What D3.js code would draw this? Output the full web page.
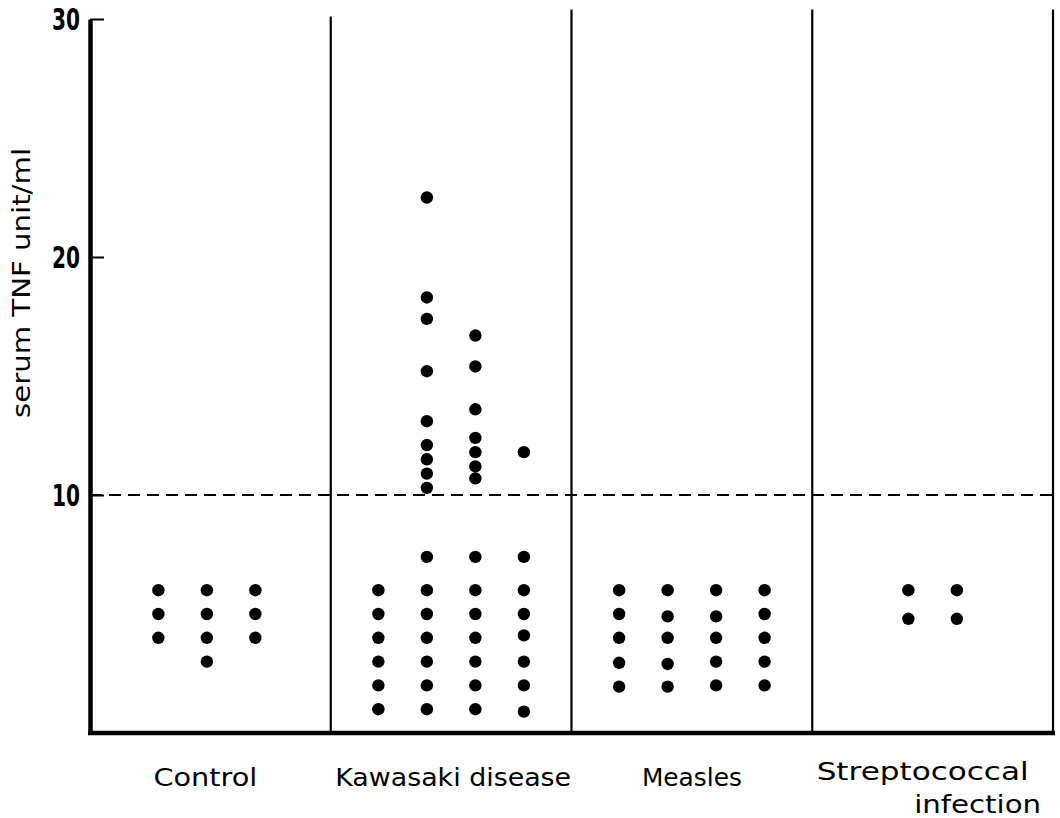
<!DOCTYPE html>
<html>
<head>
<meta charset="utf-8">
<script src="https://cdn.jsdelivr.net/npm/d3@7"></script>
<style>
  html, body { margin: 0; padding: 0; background: #fff; }
  svg { display: block; }
  text { font-family: "DejaVu Sans", "Liberation Sans", sans-serif; fill: #000; }
</style>
</head>
<body>
<svg id="chart" width="1060" height="818"></svg>
<script>
// ---- data ----
const categories = ["Control", "Kawasaki disease", "Measles", "Streptococcal infection"];
const yTicks = [10, 20, 30];
const threshold = 10;
// each category: list of dot columns, each column a list of serum TNF values (unit/ml)
const controlValues = [
  [6, 5, 4],
  [6, 5, 4, 3],
  [6, 5, 4]
];
const kawasakiValues = [
  [6, 5, 4, 3, 2, 1],
  [22.5, 18.3, 17.4, 15.2, 13.1, 12.1, 11.5, 10.9, 10.3, 7.4, 6, 5, 4, 3, 2, 1],
  [16.7, 15.4, 13.6, 12.4, 11.8, 11.2, 10.7, 7.4, 6, 5, 4, 3, 2, 1],
  [11.8, 7.4, 6, 5, 4.1, 3, 2, 0.9]
];
const measlesValues = [
  [6, 5, 4, 2.95, 1.95],
  [6, 4.9, 4, 2.9, 1.95],
  [6, 4.9, 4, 3, 2],
  [6, 5, 4, 3, 2]
];
const streptococcalValues = [
  [6, 4.8],
  [6, 4.8]
];
const seriesByCategory = [controlValues, kawasakiValues, measlesValues, streptococcalValues];

// ---- layout ----
const svg = d3.select("#chart");
const mLeft = 90, mRight = 1053, mTop = 19, mBottom = 733;

const x = d3.scaleBand().domain(categories).range([mLeft, mRight]).padding(0);
const y = d3.scaleLinear().domain([0, 30]).range([mBottom, mTop]);
const colSpacing = 48.5;

// dividers and right border
const boundaries = categories.slice(1).map(c => x(c)).concat([x(categories[3]) + x.bandwidth()]);
svg.append("g").selectAll("line").data(boundaries).join("line")
  .attr("x1", d => d).attr("x2", d => d)
  .attr("y1", (d, i) => i === 0 ? y(30.1) : y(30.4)).attr("y2", y(0))
  .attr("stroke", "#000").attr("stroke-width", 2.2);

// threshold dashed line
svg.append("line")
  .attr("x1", mLeft).attr("x2", mRight)
  .attr("y1", y(threshold)).attr("y2", y(threshold))
  .attr("stroke", "#000").attr("stroke-width", 2)
  .attr("stroke-dasharray", "12,7");

// y axis
const yAxis = d3.axisLeft(y).tickValues(yTicks).tickSizeInner(-14).tickSizeOuter(0).tickPadding(10)
  .tickFormat(d3.format("d"));
const gy = svg.append("g").attr("transform", `translate(${mLeft},0)`).call(yAxis);
gy.select(".domain").attr("stroke", "#000").attr("stroke-width", 4.5);
gy.selectAll(".tick line").attr("stroke", "#000").attr("stroke-width", 2);
gy.selectAll(".tick text")
  .attr("font-family", "Liberation Sans, Arial, sans-serif")
  .attr("font-size", 30).attr("font-weight", "bold")
  .attr("textLength", 28).attr("lengthAdjust", "spacingAndGlyphs")
  .attr("dy", "0.36em");

// bottom axis line
svg.append("line")
  .attr("x1", mLeft - 2).attr("x2", mRight + 2)
  .attr("y1", y(0)).attr("y2", y(0))
  .attr("stroke", "#000").attr("stroke-width", 4.5);

// dots
const dots = [];
seriesByCategory.forEach((cols, ci) => {
  const cat = categories[ci];
  const center = x(cat) + x.bandwidth() / 2 - (ci === 0 ? 3.5 : 0);
  cols.forEach((col, k) => {
    const cx = center + (k - (cols.length - 1) / 2) * colSpacing;
    col.forEach(v => dots.push({ cx, v }));
  });
});
svg.append("g").selectAll("circle").data(dots).join("circle")
  .attr("cx", d => d.cx).attr("cy", d => y(d.v)).attr("r", 6.2).attr("fill", "#000");

// y axis title
svg.append("text")
  .attr("transform", `translate(30,283) rotate(-90)`)
  .attr("text-anchor", "middle")
  .attr("font-size", 25)
  .attr("textLength", 270).attr("lengthAdjust", "spacingAndGlyphs")
  .text("serum TNF unit/ml");

// category labels
const catLabels = [
  { text: "Control", cx: x(categories[0]) + x.bandwidth() / 2 - 5, y: 786, len: 104 },
  { text: "Kawasaki disease", cx: x(categories[1]) + x.bandwidth() / 2 + 2, y: 786, len: 236 },
  { text: "Measles", cx: x(categories[2]) + x.bandwidth() / 2, y: 786, len: 100 },
  { text: "Streptococcal", cx: x(categories[3]) + x.bandwidth() / 2 - 10, y: 780, len: 212 },
  { text: "infection", cx: x(categories[3]) + x.bandwidth() / 2 + 45, y: 813, len: 127 }
];
svg.append("g").selectAll("text").data(catLabels).join("text")
  .attr("x", d => d.cx).attr("y", d => d.y)
  .attr("text-anchor", "middle")
  .attr("font-size", 25)
  .attr("textLength", d => d.len).attr("lengthAdjust", "spacingAndGlyphs")
  .text(d => d.text);
</script>
</body>
</html>
